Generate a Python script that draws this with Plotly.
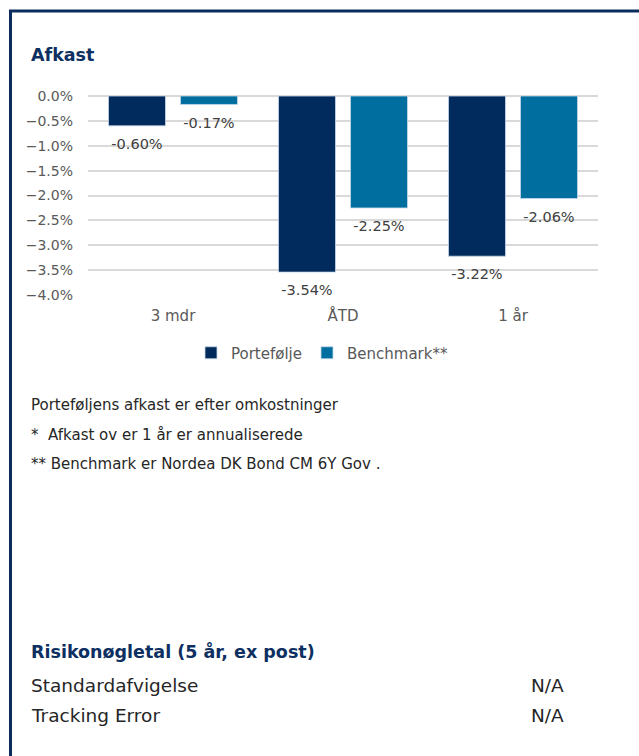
import plotly.graph_objects as go

W, H = 639, 756

categories = ["3 mdr", "ÅTD", "1 år"]
portefolje = [-0.0060, -0.0354, -0.0322]
benchmark = [-0.0017, -0.0225, -0.0206]
series_names = ["Portefølje", "Benchmark**"]
tick_vals = [0, -0.005, -0.01, -0.015, -0.02, -0.025, -0.03, -0.035, -0.04]

NAVY = "#002b5c"
TEAL = "#006fa0"
TITLE_C = "#0d2f61"
FONT = "DejaVu Sans"

def px(x):
    return x / W

def py(y):
    return 1 - y / H

fig = go.Figure()
for name, vals, col in [(series_names[0], portefolje, NAVY), (series_names[1], benchmark, TEAL)]:
    fig.add_trace(go.Bar(
        x=categories, y=vals, name=name, offsetgroup=name,
        marker=dict(color=col, line=dict(color="#c8d8e8", width=0.8)),
        cliponaxis=False,
    ))
for name, vals in [(series_names[0], portefolje), (series_names[1], benchmark)]:
    fig.add_trace(go.Scatter(
        x=categories, y=vals, name=name, offsetgroup=name, showlegend=False,
        mode="markers+text", marker=dict(size=18, opacity=0),
        texttemplate="%{y:.2%}", textposition="bottom center",
        textfont=dict(family=FONT, size=14.5, color="#404040"),
        cliponaxis=False, hoverinfo="skip",
    ))

fig.update_layout(
    template="none",
    width=W, height=H,
    margin=dict(l=0, r=0, t=0, b=0, pad=0, autoexpand=False),
    paper_bgcolor="white", plot_bgcolor="white",
    barmode="group", bargap=0.153, bargroupgap=0.208,
    scattermode="group", scattergap=0.153,
    font=dict(family=FONT, color="#595959"),
    showlegend=True,
    legend=dict(orientation="h", x=px(322), xanchor="center", y=py(353), yanchor="middle",
                font=dict(family=FONT, size=15, color="#595959"),
                itemwidth=30, tracegroupgap=0, itemclick=False, bgcolor="rgba(0,0,0,0)"),
    xaxis=dict(domain=[px(88), px(598)], showgrid=False, showline=False, zeroline=False,
               automargin=False, ticklabelstandoff=10,
               tickfont=dict(family=FONT, size=15, color="#595959"), ticks=""),
    yaxis=dict(domain=[py(295), py(96)], range=[-0.04, 0], tickvals=tick_vals,
               automargin=False,
               tickformat=".1%", showgrid=True, gridcolor="#d9d9d9", gridwidth=1.5,
               zeroline=True, zerolinecolor="#d9d9d9", zerolinewidth=1.5,
               showline=False, ticks="", ticklabelstandoff=14,
               tickfont=dict(family=FONT, size=14, color="#595959")),
)

# frame
fig.add_shape(type="rect", xref="paper", yref="paper",
              x0=px(10.5), x1=px(660), y0=py(11), y1=py(780),
              line=dict(color="#0b2d5e", width=3), layer="above")

def text(x, y, s, size=14, color="#262626", bold=False, anchor="left"):
    fig.add_annotation(xref="paper", yref="paper", x=px(x), y=py(y), text=("<b>%s</b>" % s) if bold else s,
                       showarrow=False, xanchor=anchor, yanchor="middle",
                       font=dict(family=FONT, size=size, color=color))

text(29, 55, "Afkast", size=17.5, color=TITLE_C, bold=True)
text(29, 405, "Porteføljens afkast er efter omkostninger", size=15)
text(29, 435, "*  Afkast ov er 1 år er annualiserede", size=15)
text(29, 464, "** Benchmark er Nordea DK Bond CM 6Y Gov .", size=15)
text(29, 651, "Risikonøgletal (5 år, ex post)", size=17.5, color=TITLE_C, bold=True)
text(29, 685, "Standardafvigelse", size=18.5)
text(29, 715, "Tracking Error", size=18.5)
text(529, 685, "N/A", size=18.5)
text(529, 715, "N/A", size=18.5)

fig.write_html("out.html", config={"displayModeBar": False},
               post_script="document.body.style.margin='0';document.body.style.overflow='hidden';")
